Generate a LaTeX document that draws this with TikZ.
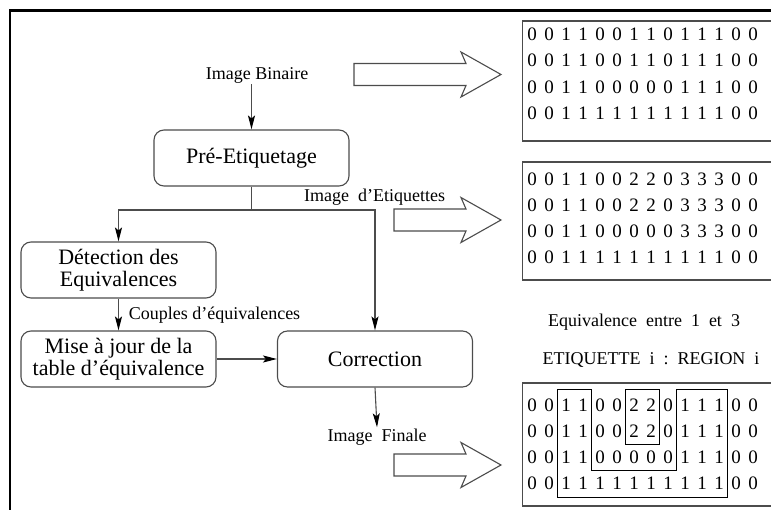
\documentclass[tikz,border=0pt]{standalone}
\usepackage{fontspec}
\setmainfont{Liberation Serif}
\usetikzlibrary{arrows.meta}
\definecolor{traitgris}{gray}{0.3}

\begin{document}
\begin{tikzpicture}[x=1pt,y=-1pt,line width=1.1pt,
    boite/.style={draw=traitgris,rounded corners=10pt,minimum width=195pt,
      minimum height=56pt,align=center,inner sep=0pt,
      font=\fontsize{22}{22}\selectfont},
    legende/.style={inner sep=1pt,font=\fontsize{18}{18}\selectfont},
    chiffre/.style={inner sep=0pt,text height=13pt,text depth=0pt,
      font=\fontsize{19}{19}\selectfont},
    fleche/.style={draw=traitgris,-{Stealth[length=14pt,width=7pt,inset=3pt,color=black]}},
    grosse/.style={draw=traitgris,fill=white,line join=miter}]
    \useasboundingbox (0,0) rectangle (771,510);
    \clip (0,0) rectangle (771,510);

    % cadre
    \draw[line width=2.5pt] (10,520) -- (10,10.5) -- (780,10.5);

    % organigramme
    \node[boite] (pre) at (251.5,158) {Pré-Etiquetage};
    \node[boite] (det) at (118.5,270) {Détection des\\Equivalences};
    \node[boite] (maj) at (118.5,359) {Mise à jour de la\\table d'équivalence};
    \node[boite] (corr) at (375,359) {Correction};

    \node[legende] (bin) at (257,75) {Image Binaire};
    \node[legende] (etq) at (374.5,197) {Image\ \ d'Etiquettes};
    \node[legende] (cpl) at (214.5,315) {Couples d'équivalences};
    \node[legende] (fin) at (377,437) {Image\ \ Finale};

    \coordinate (split) at (251.5,210);
    \draw[fleche] (bin.south -| pre.north) -- (pre.north);
    \draw[draw=traitgris] (pre.south) -- (split);
    \draw[fleche] (split) -| (det.north);
    \draw[fleche] (split) -| (corr.north);
    \draw[fleche] (det.south) -- (maj.north);
    \draw[fleche] (maj.east) -- (corr.west);
    \draw[fleche] (corr.south) -- (fin.north);

    % grosses fleches vers les images
    \foreach \xa/\yc in {354/74.5, 394/220, 394/465}
      \draw[grosse] (\xa,\yc-11) -- (466,\yc-11) -- (461,\yc-22.5) -- (501,\yc)
        -- (461,\yc+22.5) -- (466,\yc+11) -- (\xa,\yc+11) -- cycle;

    % images
    \draw[draw=traitgris,line width=1.2pt] (522.5,21) rectangle (790,141);
    \draw[draw=traitgris,line width=1.2pt] (522.5,162) rectangle (790,280);
    \draw[draw=traitgris,line width=1.2pt] (522.5,383) rectangle (790,506);

    \foreach \ligne [count=\r] in {{0,0,1,1,0,0,1,1,0,1,1,1,0,0},
        {0,0,1,1,0,0,1,1,0,1,1,1,0,0},{0,0,1,1,0,0,0,0,0,1,1,1,0,0},
        {0,0,1,1,1,1,1,1,1,1,1,1,0,0}}
      \foreach \d [count=\c from 0] in \ligne
        \node[chiffre] (b-\r-\c) at (532+17*\c,7.5+26.4*\r) {\d};

    \foreach \ligne [count=\r] in {{0,0,1,1,0,0,2,2,0,3,3,3,0,0},
        {0,0,1,1,0,0,2,2,0,3,3,3,0,0},{0,0,1,1,0,0,0,0,0,3,3,3,0,0},
        {0,0,1,1,1,1,1,1,1,1,1,1,0,0}}
      \foreach \d [count=\c from 0] in \ligne
        \node[chiffre] (e-\r-\c) at (532+17*\c,153+26*\r) {\d};

    \node[legende] (eqv) at (644,322) {Equivalence\ \ entre\ \ 1\ \ et\ \ 3};
    \node[legende] (reg) at (651,360) {ETIQUETTE\ \ i\ \ :\ \ REGION\ \ i};

    \foreach \ligne [count=\r] in {{0,0,1,1,0,0,2,2,0,1,1,1,0,0},
        {0,0,1,1,0,0,2,2,0,1,1,1,0,0},{0,0,1,1,0,0,0,0,0,1,1,1,0,0},
        {0,0,1,1,1,1,1,1,1,1,1,1,0,0}}
      \foreach \d [count=\c from 0] in \ligne
        \node[chiffre] (f-\r-\c) at (532+17*\c,379+26*\r) {\d};

    % regions
    \draw[line width=1pt] (557.5,390) -- (591.5,390) -- (591.5,470) -- (676.5,470)
      -- (676.5,390) -- (727.5,390) -- (727.5,497) -- (557.5,497) -- cycle;
    \draw[line width=1pt] (625.5,390) rectangle (659.5,444);
\end{tikzpicture}
\end{document}
